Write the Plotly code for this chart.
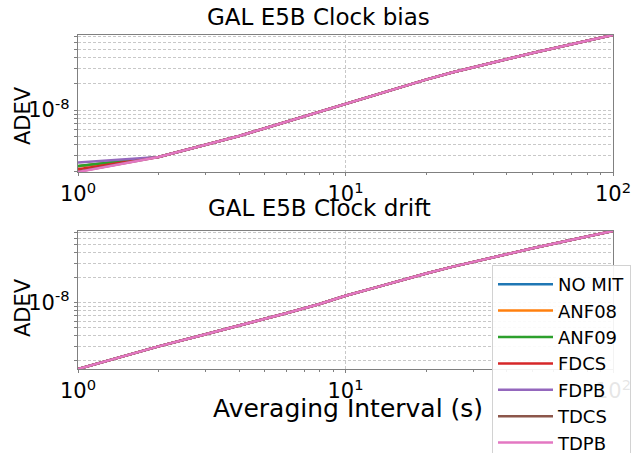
import math
import plotly.graph_objects as go

# Averaging intervals (s)
taus = [1, 2, 3, 4, 5, 6, 8, 10, 13, 16, 20, 25, 30, 40, 50, 64, 80, 100]

series = ["NO MIT", "ANF08", "ANF09", "FDCS", "FDPB", "TDCS", "TDPB"]
colors = ["#1f77b4", "#ff7f0e", "#2ca02c", "#d62728", "#9467bd", "#8c564b", "#e377c2"]

# Clock bias ADEV: first point per mitigation scheme, shared tail from tau = 2 s
bias_start = [2.27e-9, 2.27e-9, 2.28e-9, 2.10e-9, 2.50e-9, 1.97e-9, 1.95e-9]
bias_tail = [2.9e-9, 4.0e-9, 5.05e-9, 6.2e-9, 7.35e-9, 9.6e-9, 1.19e-8, 1.52e-8,
             1.84e-8, 2.24e-8, 2.70e-8, 3.12e-8, 3.84e-8, 4.52e-8, 5.40e-8,
             6.25e-8, 7.28e-8]

# Clock drift ADEV (identical for every scheme)
drift = [1.6e-9, 3.0e-9, 4.2e-9, 5.3e-9, 6.35e-9, 7.5e-9, 9.7e-9, 1.22e-8, 1.54e-8,
         1.86e-8, 2.26e-8, 2.72e-8, 3.14e-8, 3.86e-8, 4.55e-8, 5.45e-8, 6.32e-8,
         7.36e-8]

W, H = 644, 453
L, R, T, B = 78, 31, 35, 84
PW, PH = W - L - R, H - T - B


def px_x(x):
    return (x - L) / PW


def px_y(y):
    return (H - B - y) / PH


fig = go.Figure()
for i, name in enumerate(series):
    fig.add_trace(go.Scatter(
        x=taus, y=[bias_start[i]] + bias_tail, mode="lines", name=name,
        line=dict(color=colors[i], width=2.5), xaxis="x", yaxis="y",
        legendgroup=name))
for i, name in enumerate(series):
    fig.add_trace(go.Scatter(
        x=taus, y=drift, mode="lines", name=name, showlegend=False,
        line=dict(color=colors[i], width=2.5), xaxis="x2", yaxis="y2",
        legendgroup=name))

bias_all = bias_start + bias_tail
yr1 = [math.log10(min(bias_all)), math.log10(max(bias_all))]
yr2 = [math.log10(min(drift)), math.log10(max(drift))]

grid_vals = [m * 10 ** e for e in (-9, -8) for m in range(1, 10)]
grid_text = ["10<sup>-8</sup>" if abs(v - 1e-8) < 1e-12 else "" for v in grid_vals]
x_minor = [m * 10 ** e for e in (0, 1) for m in range(2, 10)]

frame = "rgb(128,128,128)"
gridc = "rgb(200,200,200)"
tickfont = dict(family="DejaVu Sans", size=21, color="black")

xcommon = dict(type="log", range=[0, 2], tickmode="array", tickvals=[1, 10, 100],
               ticktext=["10<sup>0</sup>", "10<sup>1</sup>", "10<sup>2</sup>"],
               showline=True, linecolor=frame, linewidth=1.3, mirror=True,
               ticks="outside", ticklen=3, tickcolor=frame, tickfont=tickfont,
               showgrid=True, gridcolor=gridc, griddash="3px,2px", gridwidth=1,
               zeroline=False,
               minor=dict(tickmode="array", tickvals=x_minor, ticks="outside",
                          ticklen=2, tickcolor=frame, showgrid=False))
ycommon = dict(type="log", tickmode="array", tickvals=grid_vals, ticktext=grid_text,
               showline=True, linecolor=frame, linewidth=1.3, mirror=True,
               ticks="outside", ticklen=3, tickcolor=frame, tickfont=tickfont,
               showgrid=True, gridcolor=gridc, griddash="3px,2px", gridwidth=1,
               zeroline=False)

d1 = [px_y(172), 1]
d2 = [0, px_y(231)]

fig.update_layout(
    width=W, height=H,
    margin=dict(l=L, r=R, t=T, b=B, autoexpand=False),
    paper_bgcolor="white", plot_bgcolor="white",
    font=dict(family="DejaVu Sans", color="black"),
    xaxis=dict(xcommon, domain=[0, 1], anchor="y"),
    yaxis=dict(ycommon, domain=d1, range=yr1, anchor="x"),
    xaxis2=dict(xcommon, domain=[0, 1], anchor="y2"),
    yaxis2=dict(ycommon, domain=d2, range=yr2, anchor="x2"),
    legend=dict(x=px_x(492), y=px_y(265), xanchor="left", yanchor="top",
                bgcolor="rgba(255,255,255,0.9)", bordercolor="rgb(210,210,210)",
                borderwidth=1, font=dict(family="DejaVu Sans", size=18, color="black"),
                itemwidth=55, traceorder="normal"),
    showlegend=True,
)

ann = [
    dict(text="GAL E5B Clock bias", x=px_x(318), y=px_y(17), size=23),
    dict(text="GAL E5B Clock drift", x=px_x(319), y=px_y(208), size=23),
    dict(text="Averaging Interval (s)", x=px_x(348), y=px_y(408), size=25),
]
for a in ann:
    fig.add_annotation(text=a["text"], x=a["x"], y=a["y"], xref="paper", yref="paper",
                       showarrow=False, xanchor="center", yanchor="middle",
                       font=dict(family="DejaVu Sans", size=a["size"], color="black"))
for yc in (116, 308):
    fig.add_annotation(text="ADEV", x=px_x(23), y=px_y(yc), xref="paper", yref="paper",
                       showarrow=False, xanchor="center", yanchor="middle", textangle=-90,
                       font=dict(family="DejaVu Sans", size=21, color="black"))

fig.write_html("out.html")
